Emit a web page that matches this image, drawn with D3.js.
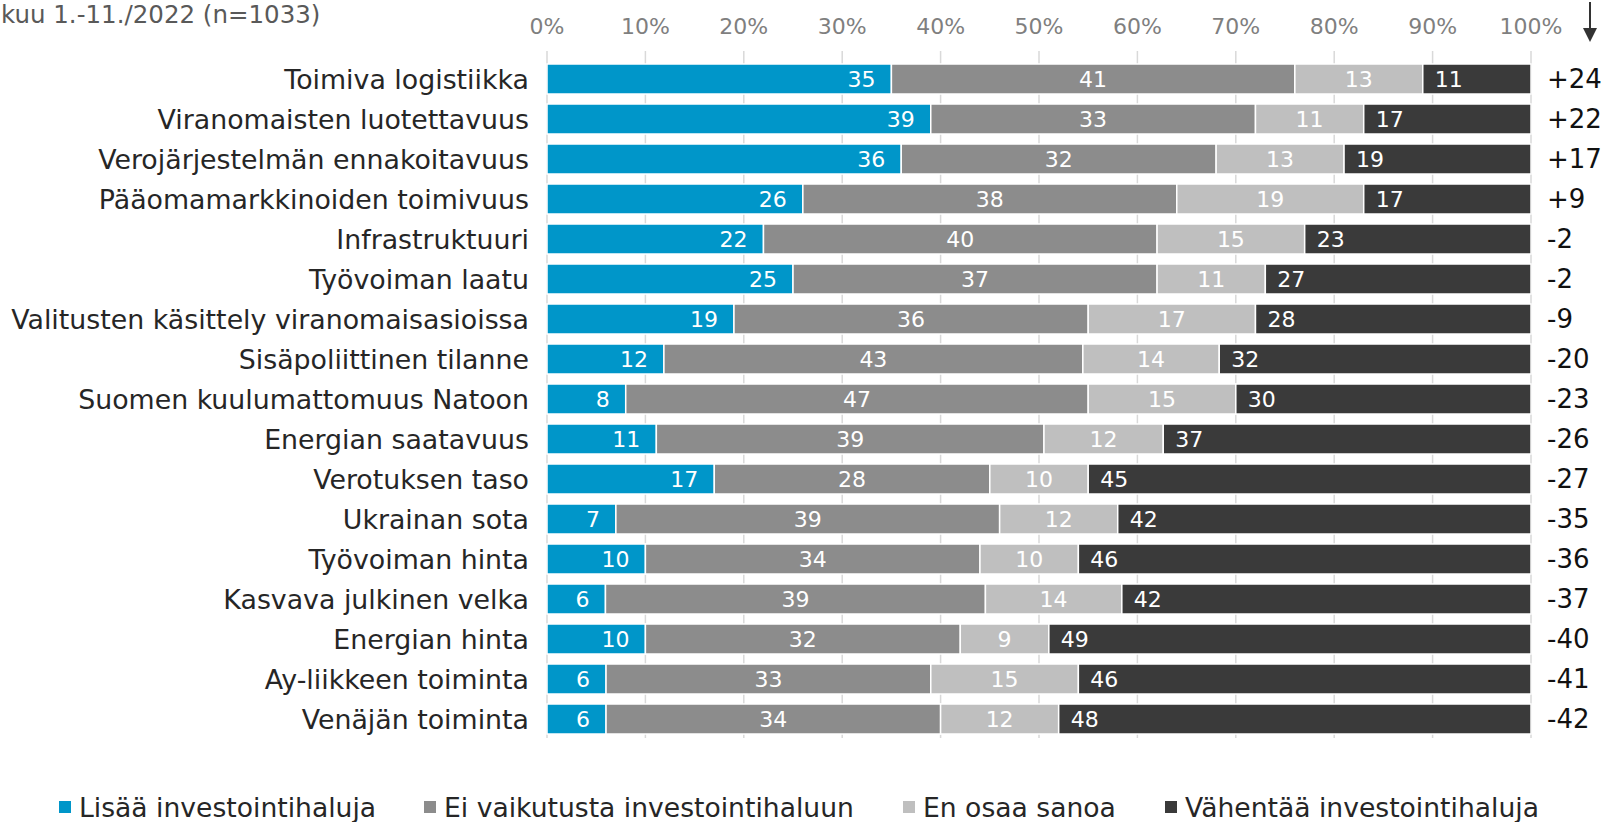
<!DOCTYPE html>
<html>
<head>
<meta charset="utf-8">
<script src="https://cdn.jsdelivr.net/npm/d3@7"></script>
<style>
  body { margin: 0; background: #fff; }
  svg { display: block; font-family: "DejaVu Sans", Verdana, sans-serif; }
  .tick-label { fill: #7f7f7f; font-size: 22px; }
  .cat { fill: #262626; font-size: 26.8px; }
  .net { fill: #111; font-size: 26px; }
  .seg-label { fill: #fff; font-size: 22px; }
  .legend text { fill: #262626; font-size: 26.6px; }
</style>
</head>
<body>
<div class="chart"></div>
<script>
// data
const categories = [
  "Toimiva logistiikka",
  "Viranomaisten luotettavuus",
  "Verojärjestelmän ennakoitavuus",
  "Pääomamarkkinoiden toimivuus",
  "Infrastruktuuri",
  "Työvoiman laatu",
  "Valitusten käsittely viranomaisasioissa",
  "Sisäpoliittinen tilanne",
  "Suomen kuulumattomuus Natoon",
  "Energian saatavuus",
  "Verotuksen taso",
  "Ukrainan sota",
  "Työvoiman hinta",
  "Kasvava julkinen velka",
  "Energian hinta",
  "Ay-liikkeen toiminta",
  "Venäjän toiminta"
];
const lisaa = [35, 39, 36, 26, 22, 25, 19, 12, 8, 11, 17, 7, 10, 6, 10, 6, 6];
const eiVaikutusta = [41, 33, 32, 38, 40, 37, 36, 43, 47, 39, 28, 39, 34, 39, 32, 33, 34];
const enOsaa = [13, 11, 13, 19, 15, 11, 17, 14, 15, 12, 10, 12, 10, 14, 9, 15, 12];
const vahentaa = [11, 17, 19, 17, 23, 27, 28, 32, 30, 37, 45, 42, 46, 42, 49, 46, 48];
const netto = ["+24", "+22", "+17", "+9", "-2", "-2", "-9", "-20", "-23", "-26", "-27", "-35", "-36", "-37", "-40", "-41", "-42"];
const seriesNames = ["Lisää investointihaluja", "Ei vaikutusta investointihaluun", "En osaa sanoa", "Vähentää investointihaluja"];
const ticks = [0, 0.1, 0.2, 0.3, 0.4, 0.5, 0.6, 0.7, 0.8, 0.9, 1];
const title = "kuu 1.-11./2022 (n=1033)";

const width = 1604, height = 822;
const keys = ["lisaa", "ei", "en", "vah"];
const colors = ["#0096c9", "#8c8c8c", "#bfbfbf", "#3a3a3a"];

const rows = categories.map((c, i) => ({
  cat: c, lisaa: lisaa[i], ei: eiVaikutusta[i], en: enOsaa[i], vah: vahentaa[i], net: netto[i]
}));

const svg = d3.select(".chart").append("svg")
  .attr("width", width)
  .attr("height", height);

const x = d3.scaleLinear().domain([0, 1]).range([547, 1531]);
const y = d3.scaleBand().domain(categories)
  .range([59, 59 + 17 * 40])
  .paddingInner(0.25)
  .paddingOuter(0.125);

// title
svg.append("text")
  .attr("x", 1)
  .attr("y", 23)
  .attr("fill", "#595959")
  .style("font-size", "24.5px")
  .text(title);

// gridlines
svg.append("g")
  .selectAll("line")
  .data(ticks)
  .join("line")
  .attr("x1", d => x(d))
  .attr("x2", d => x(d))
  .attr("y1", 51)
  .attr("y2", 738)
  .attr("stroke", "#d9d9d9")
  .attr("stroke-width", 1.5);

// top axis labels
svg.append("g")
  .selectAll("text")
  .data(ticks)
  .join("text")
  .attr("class", "tick-label")
  .attr("x", d => x(d))
  .attr("y", 34)
  .attr("text-anchor", "middle")
  .text(d3.format(".0%"));

// sort arrow
svg.append("line")
  .attr("x1", 1590).attr("x2", 1590)
  .attr("y1", 2).attr("y2", 30)
  .attr("stroke", "#333").attr("stroke-width", 2);
svg.append("path")
  .attr("d", "M1583,28 L1597,28 L1590,42 Z")
  .attr("fill", "#333");

// stacked bars (100% stacked)
const stack = d3.stack().keys(keys).offset(d3.stackOffsetExpand);
const series = stack(rows);

const layers = svg.append("g")
  .selectAll("g")
  .data(series)
  .join("g")
  .attr("fill", (d, i) => colors[i]);

layers.selectAll("rect")
  .data(d => d)
  .join("rect")
  .attr("x", d => x(d[0]))
  .attr("y", d => y(d.data.cat))
  .attr("width", d => x(d[1]) - x(d[0]))
  .attr("height", y.bandwidth())
  .attr("stroke", "#fff")
  .attr("stroke-width", 1.5);

// segment labels
layers.each(function (s, si) {
  d3.select(this).selectAll("text")
    .data(s)
    .join("text")
    .attr("class", "seg-label")
    .attr("x", d => {
      if (si === 0) return x(d[1]) - 16;
      if (si === 3) return x(d[0]) + 12;
      return (x(d[0]) + x(d[1])) / 2;
    })
    .attr("y", d => y(d.data.cat) + y.bandwidth() / 2)
    .attr("dy", "0.36em")
    .attr("text-anchor", si === 0 ? "end" : si === 3 ? "start" : "middle")
    .text(d => d.data[s.key]);
});

// category labels
svg.append("g")
  .selectAll("text")
  .data(rows)
  .join("text")
  .attr("class", "cat")
  .attr("x", 529)
  .attr("y", d => y(d.cat) + y.bandwidth() / 2)
  .attr("dy", "0.36em")
  .attr("text-anchor", "end")
  .text(d => d.cat);

// net values on the right
svg.append("g")
  .selectAll("text")
  .data(rows)
  .join("text")
  .attr("class", "net")
  .attr("x", 1547)
  .attr("y", d => y(d.cat) + y.bandwidth() / 2)
  .attr("dy", "0.36em")
  .text(d => d.net);

// legend
const legendX = [59, 424, 903, 1165];
const legend = svg.append("g").attr("class", "legend")
  .selectAll("g")
  .data(seriesNames)
  .join("g")
  .attr("transform", (d, i) => `translate(${legendX[i]}, 0)`);

legend.append("rect")
  .attr("x", 0)
  .attr("y", 801)
  .attr("width", 12)
  .attr("height", 12)
  .attr("fill", (d, i) => colors[i]);

legend.append("text")
  .attr("x", 20)
  .attr("y", 817)
  .text(d => d);
</script>
</body>
</html>
